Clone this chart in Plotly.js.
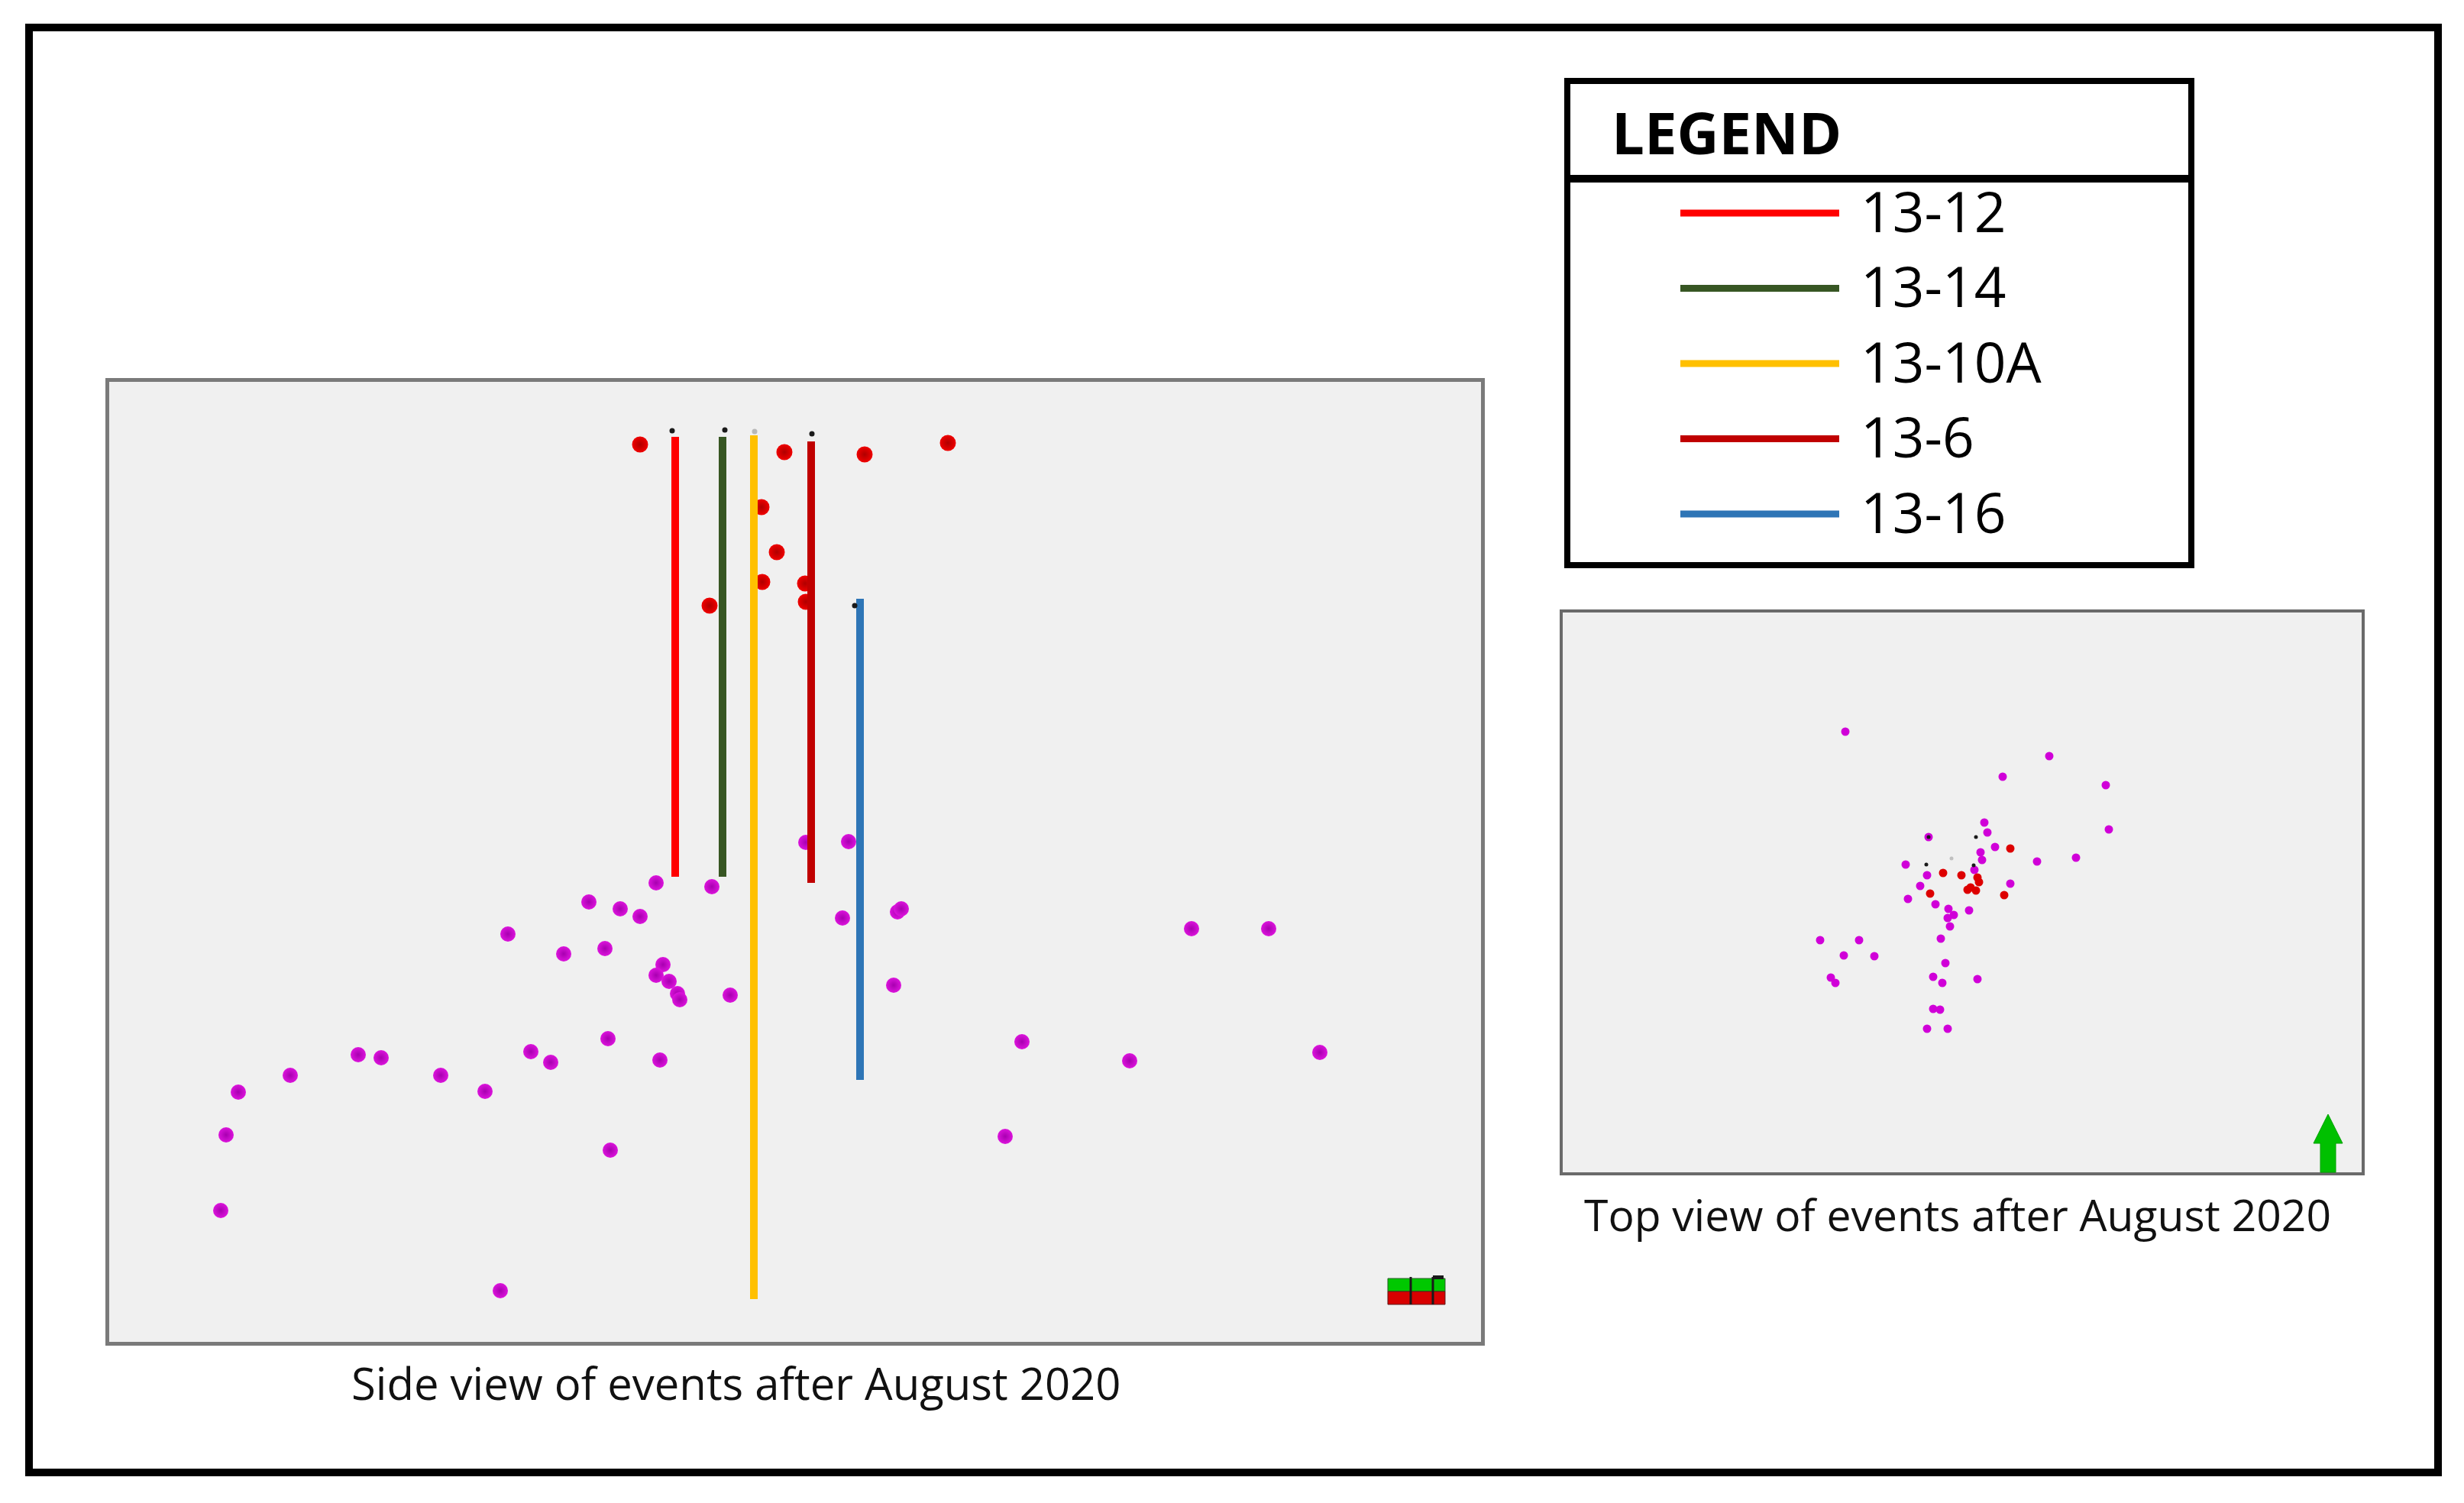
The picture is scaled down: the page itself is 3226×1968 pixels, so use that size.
<!DOCTYPE html>
<html>
<head>
<meta charset="utf-8">
<script src="https://cdn.plot.ly/plotly-3.0.1.min.js"></script>
<style>
  html, body { margin: 0; padding: 0; background: #ffffff; }
  #chart { width: 3226px; height: 1968px; }
</style>
</head>
<body>
<div id="chart"></div>
<script>
// ---------------- DATA (arbitrary plan/section units) ----------------
// Wells
const wellNames  = ['13-12', '13-14', '13-10A', '13-6', '13-16'];
const wellColors = ['#ff0000', '#375623', '#ffc000', '#c00000', '#2e75b6'];
const wellSideX      = [744, 806, 847, 922, 986];
const wellSideTop    = [76, 76, 74, 82, 288];
const wellSideBottom = [652, 652, 1205, 660, 918];

// Well-head markers in the side view
const headSideX = [740, 809, 848, 923, 979];
const headSideY = [68, 67, 69, 72, 297];
const headSideColor = ['#1a1a1a', '#1a1a1a', '#b8b8b8', '#1a1a1a', '#1a1a1a'];

// Side view — red events
const sideRedX = [698, 887, 992, 1101, 857, 877, 858, 914, 915, 789];
const sideRedY = [86, 96, 99, 84, 168, 227, 266, 268, 292, 297];

// Side view — magenta events
const sideMagX = [915, 971, 719, 792, 631, 672, 698, 1035, 1040, 963, 525, 1420, 1521, 598, 652,
                  728, 719, 736, 747, 750, 816, 1030, 656, 1198, 329, 359, 555, 581, 724, 1339,
                  1588, 240, 437, 172, 495, 156, 659, 1176, 149, 515];
const sideMagY = [607, 606, 660, 665, 685, 694, 704, 698, 694, 706, 727, 720, 720, 753, 746,
                  767, 781, 789, 805, 813, 807, 794, 864, 868, 885, 889, 881, 895, 892, 893,
                  882, 912, 912, 934, 933, 990, 1010, 992, 1089, 1194];

// Top view — magenta events
const topMagX = [374, 641, 580, 715, 719, 556, 560, 483, 570, 551, 553, 625, 676, 453, 481, 543,
                 590, 472, 456, 492, 509, 536, 516, 508, 511, 499, 341, 392, 372, 412, 505, 489,
                 501, 547, 355, 361, 489, 498, 481, 508];
const topMagY = [160, 192, 219, 230, 288, 279, 292, 298, 311, 318, 328, 330, 325, 334, 348, 341,
                 359, 362, 379, 386, 392, 394, 400, 404, 415, 431, 433, 433, 453, 454, 463, 481,
                 489, 484, 482, 489, 523, 524, 549, 549];

// Top view — red events
const topRedX = [590, 502, 526, 547, 549, 538, 545, 534, 485, 582];
const topRedY = [313, 345, 348, 351, 357, 364, 368, 367, 372, 374];

// Top view — well heads
const topHeadX = [483, 545, 480, 542, 513];
const topHeadY = [298, 298, 334, 335, 326];
const topHeadColor = ['#1a1a1a', '#1a1a1a', '#1a1a1a', '#1a1a1a', '#c0c0c0'];

// Texts
const legendTitle = 'LEGEND';
const sideCaption = 'Side view of events after August 2020';
const topCaption  = 'Top view of events after August 2020';

// ---------------- LAYOUT HELPERS ----------------
const W = 3226, H = 1968;
const px = x => x / W;
const py = y => 1 - y / H;

const traces = [];

// side view events (drawn beneath the wells)
traces.push({
  type: 'scatter', mode: 'markers', x: sideMagX, y: sideMagY, xaxis: 'x', yaxis: 'y',
  marker: { size: 20, color: '#dc14dc', gradient: { type: 'radial', color: '#a800b0' }, line: { width: 0 } },
  showlegend: false, hoverinfo: 'skip'
});
traces.push({
  type: 'scatter', mode: 'markers', x: sideRedX, y: sideRedY, xaxis: 'x', yaxis: 'y',
  marker: { size: 21, color: '#f00000', gradient: { type: 'radial', color: '#b00000' }, line: { width: 0 } },
  showlegend: false, hoverinfo: 'skip'
});

// wells
wellNames.forEach((n, i) => {
  traces.push({
    type: 'scatter', mode: 'lines', name: n,
    x: [wellSideX[i], wellSideX[i]], y: [wellSideTop[i], wellSideBottom[i]],
    xaxis: 'x', yaxis: 'y',
    line: { color: wellColors[i], width: 10 },
    showlegend: false, hoverinfo: 'skip'
  });
});

// well heads side
traces.push({
  type: 'scatter', mode: 'markers', x: headSideX, y: headSideY, xaxis: 'x', yaxis: 'y',
  marker: { size: 7, color: headSideColor, line: { width: 0 } },
  showlegend: false, hoverinfo: 'skip'
});

// top view
traces.push({
  type: 'scatter', mode: 'markers', x: topMagX, y: topMagY, xaxis: 'x2', yaxis: 'y2',
  marker: { size: 11, color: '#d000d8', line: { width: 0 } },
  showlegend: false, hoverinfo: 'skip'
});
traces.push({
  type: 'scatter', mode: 'markers', x: topRedX, y: topRedY, xaxis: 'x2', yaxis: 'y2',
  marker: { size: 11, color: '#dd0000', line: { width: 0 } },
  showlegend: false, hoverinfo: 'skip'
});
traces.push({
  type: 'scatter', mode: 'markers', x: topHeadX, y: topHeadY, xaxis: 'x2', yaxis: 'y2',
  marker: { size: 5, color: topHeadColor, line: { width: 0 } },
  showlegend: false, hoverinfo: 'skip'
});

const hiddenAxis = {
  showticklabels: false, showgrid: false, zeroline: false, ticks: '', fixedrange: true
};

const shapes = [];
const annotations = [];

// outer frame
shapes.push({ type: 'rect', xref: 'paper', yref: 'paper',
  x0: px(38), x1: px(3192), y0: py(1928), y1: py(36),
  line: { color: '#000000', width: 10 }, fillcolor: 'rgba(0,0,0,0)' });

// legend box
shapes.push({ type: 'rect', xref: 'paper', yref: 'paper',
  x0: px(2052), x1: px(2869), y0: py(740), y1: py(106),
  line: { color: '#000000', width: 8 }, fillcolor: '#ffffff' });
shapes.push({ type: 'line', xref: 'paper', yref: 'paper',
  x0: px(2052), x1: px(2869), y0: py(234), y1: py(234),
  line: { color: '#000000', width: 10 } });
annotations.push({ xref: 'paper', yref: 'paper', x: px(2108), y: py(172),
  xanchor: 'left', yanchor: 'middle', showarrow: false, text: '<b>' + legendTitle + '</b>',
  font: { family: 'Open Sans', size: 76, color: '#000000' } });

wellNames.forEach((n, i) => {
  const yc = 279 + i * 98.5;
  shapes.push({ type: 'line', xref: 'paper', yref: 'paper',
    x0: px(2200), x1: px(2408), y0: py(yc), y1: py(yc),
    line: { color: wellColors[i], width: 9 } });
  annotations.push({ xref: 'paper', yref: 'paper', x: px(2434), y: py(yc - 4),
    xanchor: 'left', yanchor: 'middle', showarrow: false, text: n,
    font: { family: 'Open Sans', size: 73, color: '#000000' } });
});

// captions
annotations.push({ xref: 'paper', yref: 'paper', x: px(963), y: py(1810),
  xanchor: 'center', yanchor: 'middle', showarrow: false, text: sideCaption,
  font: { family: 'Open Sans', size: 58, color: '#111111' } });
annotations.push({ xref: 'paper', yref: 'paper', x: px(2563), y: py(1590),
  xanchor: 'center', yanchor: 'middle', showarrow: false, text: topCaption,
  font: { family: 'Open Sans', size: 57, color: '#111111' } });

// orientation widget (side view)
shapes.push({ type: 'rect', xref: 'paper', yref: 'paper',
  x0: px(1817), x1: px(1892), y0: py(1691), y1: py(1674),
  line: { color: '#2a5a2a', width: 1 }, fillcolor: '#00c800' });
shapes.push({ type: 'rect', xref: 'paper', yref: 'paper',
  x0: px(1817), x1: px(1892), y0: py(1708), y1: py(1691),
  line: { color: '#5a1a1a', width: 1 }, fillcolor: '#d80000' });
[1847, 1876].forEach(xx => shapes.push({ type: 'line', xref: 'paper', yref: 'paper',
  x0: px(xx), x1: px(xx), y0: py(1708), y1: py(1672), line: { color: '#1a1a1a', width: 3 } }));
shapes.push({ type: 'rect', xref: 'paper', yref: 'paper',
  x0: px(1876), x1: px(1890), y0: py(1675), y1: py(1670),
  line: { width: 0 }, fillcolor: '#1a1a1a' });

// north arrow (top view)
const arrowPts = [[3048, 1459], [3067, 1497], [3058, 1497], [3058, 1535], [3038, 1535], [3038, 1497], [3029, 1497]];
shapes.push({ type: 'path', xref: 'paper', yref: 'paper',
  path: 'M' + arrowPts.map(p => px(p[0]) + ',' + py(p[1])).join(' L') + ' Z',
  fillcolor: '#00c000', line: { color: '#00a000', width: 1 } });

const layout = {
  width: W, height: H,
  margin: { l: 0, r: 0, t: 0, b: 0, pad: 0 },
  paper_bgcolor: '#ffffff',
  plot_bgcolor: '#f0f0f0',
  showlegend: false,
  xaxis: Object.assign({}, hiddenAxis, {
    domain: [px(143), px(1939)], range: [3, 1799], anchor: 'y',
    showline: true, mirror: true, linecolor: '#7a7a7a', linewidth: 5
  }),
  yaxis: Object.assign({}, hiddenAxis, {
    domain: [py(1757), py(500)], range: [1261, 4], anchor: 'x',
    showline: true, mirror: true, linecolor: '#7a7a7a', linewidth: 5
  }),
  xaxis2: Object.assign({}, hiddenAxis, {
    domain: [px(2046), px(3092)], range: [4, 1050], anchor: 'y2',
    showline: true, mirror: true, linecolor: '#6a6a6a', linewidth: 4
  }),
  yaxis2: Object.assign({}, hiddenAxis, {
    domain: [py(1535), py(802)], range: [737, 4], anchor: 'x2',
    showline: true, mirror: true, linecolor: '#6a6a6a', linewidth: 4
  }),
  shapes: shapes,
  annotations: annotations
};

Plotly.newPlot('chart', traces, layout, { staticPlot: true, displayModeBar: false });
</script>
</body>
</html>
